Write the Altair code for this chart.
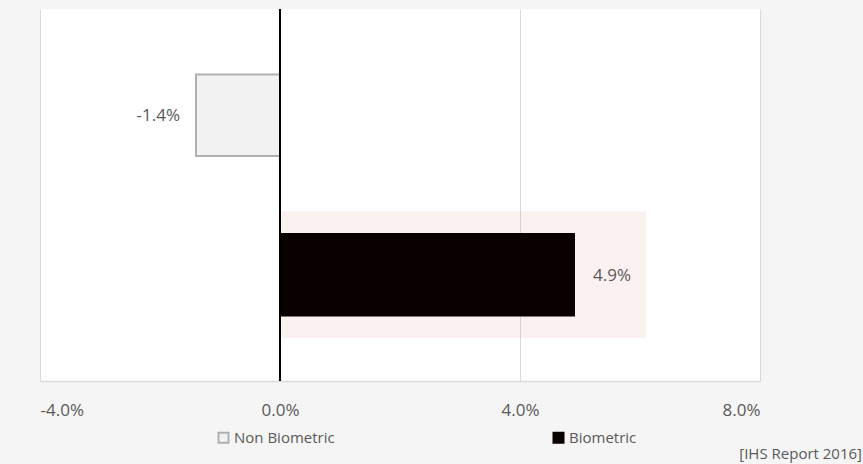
import altair as alt
import pandas as pd

categories = ["Non Biometric", "Biometric"]
values = [-0.014, 0.049]
fills = ["#f2f2f2", "#0a0000"]
strokes = ["#b0b0b0", "#0a0000"]
highlight_category = ["Biometric"]
highlight_end = [0.061]
x_ticks = [-0.04, 0.0, 0.04, 0.08]
source_text = ["[IHS Report 2016]"]

FONT = "Open Sans"
TXT = "#595959"

df = pd.DataFrame({"category": categories, "value": values,
                   "label": [f"{v*100:.1f}%" for v in values]})
hl = pd.DataFrame({"category": highlight_category, "start": [0.0], "end": highlight_end})
zero = pd.DataFrame({"x": [0.0]})
src = pd.DataFrame({"text": source_text})

xscale = alt.Scale(domain=[-0.04, 0.08], nice=False, zero=False)
yscale = alt.Scale(domain=categories, paddingInner=0.49, paddingOuter=0.41)

xaxis = alt.Axis(values=x_ticks, format=".1%", title=None, grid=True,
                 labelExpr="replace(datum.label, '\u2212', '-')",
                 gridColor="#d9d9d9", gridWidth=1, domainColor="#d9d9d9",
                 domainWidth=1.5, ticks=False, labelFont=FONT, labelFontSize=17,
                 labelColor=TXT, labelPadding=21)

legend = alt.Legend(title=None, orient="none", legendX=176, legendY=421,
                    direction="horizontal", symbolType="square",
                    symbolSize=100, symbolStrokeWidth=2,
                    labelFont=FONT, labelFontSize=15, labelColor=TXT,
                    labelOffset=3, columnPadding=214)

highlight = alt.Chart(hl).mark_bar(size=127, color="#e8a0a0", opacity=0.15).encode(
    x=alt.X("start:Q", scale=xscale, axis=xaxis),
    x2="end:Q",
    y=alt.Y("category:N", scale=yscale, axis=None),
)

bars = alt.Chart(df).mark_bar(strokeWidth=2).encode(
    x=alt.X("value:Q", scale=xscale, axis=xaxis),
    x2=alt.datum(0),
    y=alt.Y("category:N", scale=yscale, axis=None),
    fill=alt.Fill("category:N", scale=alt.Scale(domain=categories, range=fills), legend=legend),
    stroke=alt.Stroke("category:N", scale=alt.Scale(domain=categories, range=strokes), legend=legend),
)

labels_neg = alt.Chart(df).transform_filter("datum.value < 0").mark_text(
    align="right", baseline="middle", dx=-16, dy=1, font=FONT, fontSize=17, color=TXT
).encode(x=alt.X("value:Q", scale=xscale), y=alt.Y("category:N", scale=yscale), text="label:N")

labels_pos = alt.Chart(df).transform_filter("datum.value >= 0").mark_text(
    align="left", baseline="middle", dx=19, dy=1, font=FONT, fontSize=17, color=TXT
).encode(x=alt.X("value:Q", scale=xscale), y=alt.Y("category:N", scale=yscale), text="label:N")

zero_rule = alt.Chart(zero).mark_rule(color="black", strokeWidth=2).encode(
    x=alt.X("x:Q", scale=xscale)
)

source = alt.Chart(src).mark_text(
    align="right", baseline="alphabetic", font=FONT, fontSize=15, color=TXT
).encode(x=alt.value(822), y=alt.value(450), text="text:N")

chart = alt.layer(highlight, bars, labels_neg, labels_pos, zero_rule, source).properties(
    width=720, height=372,
    padding={"left": 40, "top": 9, "right": 103, "bottom": 83},
    autosize=alt.AutoSizeParams(type="none"),
    background="#f5f5f5",
).configure_view(fill="white", strokeWidth=0)

chart.save("out.html", embed_options={"renderer": "svg", "actions": False})
